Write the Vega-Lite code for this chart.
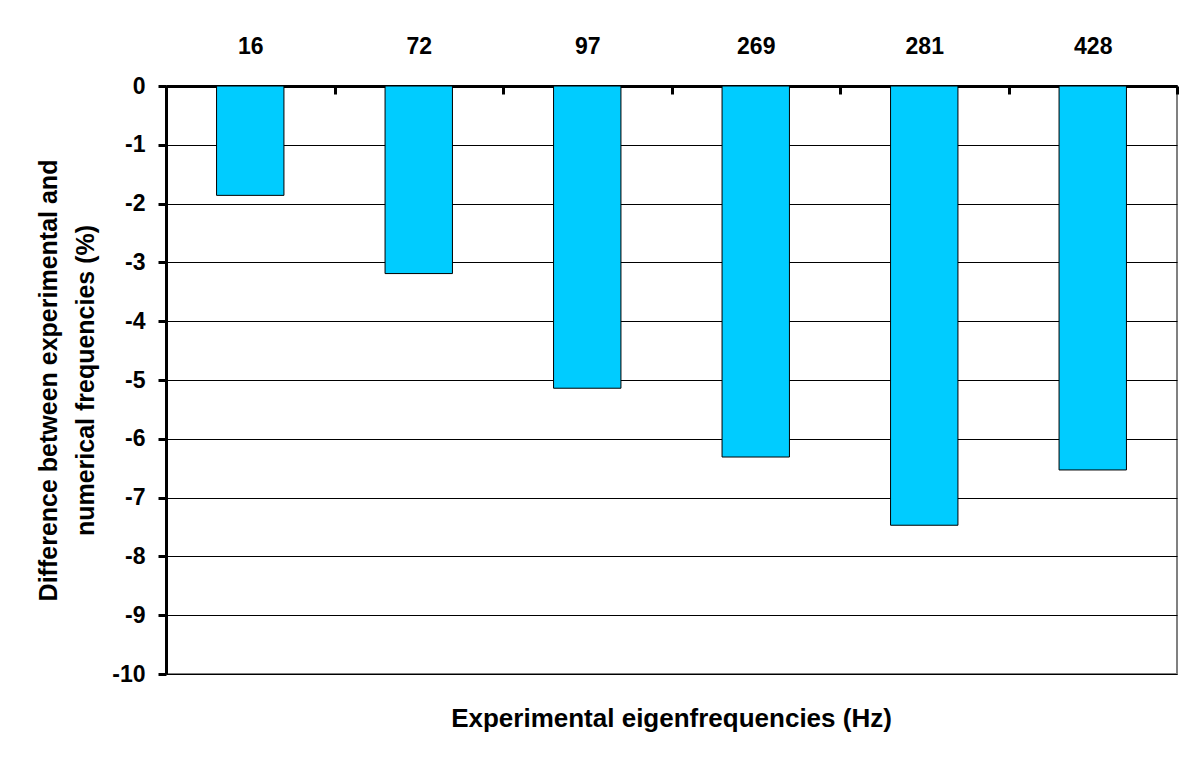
{
  "$schema": "https://vega.github.io/schema/vega-lite/v6.json",
  "width": 1011,
  "height": 588,
  "autosize": {"type": "none"},
  "padding": {"left": 166, "top": 86, "right": 13, "bottom": 84},
  "background": "white",
  "config": {
    "font": "Liberation Sans",
    "view": {"stroke": "#808080", "strokeWidth": 2}
  },
  "title": {
    "text": "Experimental eigenfrequencies (Hz)",
    "orient": "bottom",
    "anchor": "middle",
    "frame": "group",
    "font": "Liberation Sans",
    "fontSize": 26,
    "fontWeight": "bold",
    "color": "black",
    "offset": 20
  },
  "data": {
    "values": [
      {"freq": "16", "diff": -1.86},
      {"freq": "72", "diff": -3.19},
      {"freq": "97", "diff": -5.14},
      {"freq": "269", "diff": -6.31},
      {"freq": "281", "diff": -7.47},
      {"freq": "428", "diff": -6.53}
    ]
  },
  "mark": {"type": "bar", "color": "#00CCFF", "stroke": "black", "strokeWidth": 1, "width": {"band": 0.4}},
  "encoding": {
    "x": {
      "field": "freq",
      "type": "nominal",
      "sort": null,
      "scale": {"paddingInner": 0, "paddingOuter": 0},
      "axis": {
        "orient": "top",
        "title": null,
        "labelAngle": 0,
        "labelFont": "Liberation Sans",
        "labelFontSize": 23,
        "labelFontWeight": "bold",
        "labelColor": "black",
        "labelPadding": 36,
        "domainColor": "black",
        "domainWidth": 3,
        "tickColor": "black",
        "tickWidth": 3,
        "tickSize": -8,
        "tickBand": "extent",
        "grid": false
      }
    },
    "y": {
      "field": "diff",
      "type": "quantitative",
      "scale": {"domain": [-10, 0], "nice": false, "zero": false},
      "axis": {
        "values": [0, -1, -2, -3, -4, -5, -6, -7, -8, -9, -10],
        "labelExpr": "'' + datum.value",
        "title": ["Difference between experimental and", "numerical frequencies (%)"],
        "titleFont": "Liberation Sans",
        "titleFontSize": 25,
        "titleFontWeight": "bold",
        "titleColor": "black",
        "titlePadding": 13,
        "titleLineHeight": 37,
        "labelFont": "Liberation Sans",
        "labelFontSize": 23,
        "labelFontWeight": "bold",
        "labelColor": "black",
        "labelPadding": 13,
        "domainColor": "black",
        "domainWidth": 3,
        "tickColor": "black",
        "tickWidth": 3,
        "tickSize": 8,
        "grid": true,
        "gridColor": "black",
        "gridWidth": 1
      }
    }
  }
}
